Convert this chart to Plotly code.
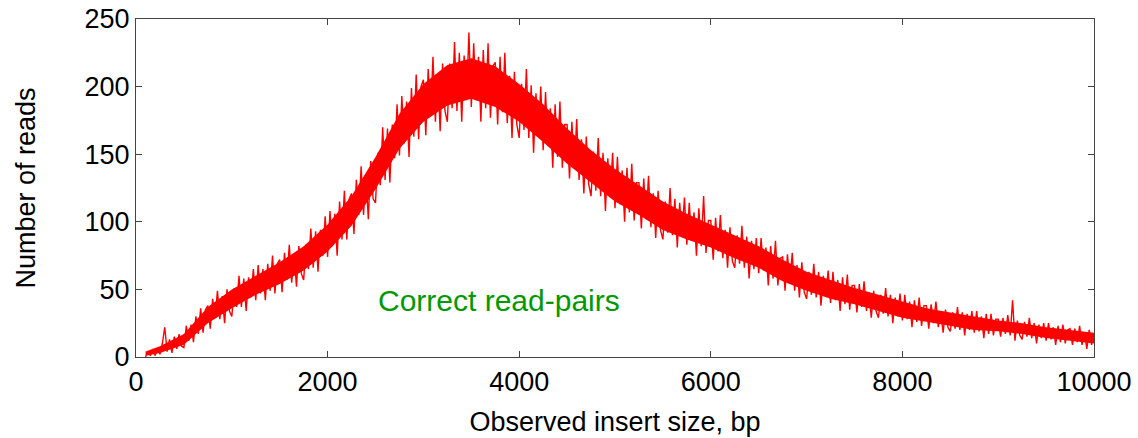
import numpy as np
import plotly.graph_objects as go

# Observed insert size grid (bp), one bin every 25 bp
insert_size = np.arange(100, 10001, 25)

# Number of reads per bin
reads = [
    0, 4, 1, 6, 1, 7,
    2, 10, 22, 4, 13, 3, 15, 6, 17, 8,
    7, 23, 12, 24, 11, 30, 17, 36, 18, 35,
    38, 21, 43, 29, 49, 28, 45, 25, 50, 34,
    30, 51, 37, 60, 37, 58, 34, 59, 44, 65,
    42, 68, 47, 65, 42, 69, 49, 75, 47, 69,
    72, 48, 77, 57, 83, 55, 76, 52, 82, 62,
    57, 83, 65, 95, 66, 93, 63, 94, 75, 104,
    74, 108, 82, 106, 75, 115, 87, 123, 87, 117,
    121, 91, 131, 105, 141, 105, 135, 102, 145, 117,
    114, 151, 127, 170, 131, 169, 129, 172, 147, 187,
    149, 193, 158, 189, 148, 199, 163, 209, 161, 200,
    205, 164, 213, 178, 222, 174, 210, 167, 217, 182,
    174, 217, 184, 233, 182, 225, 174, 223, 190, 240,
    185, 232, 190, 222, 174, 227, 184, 232, 177, 215,
    218, 172, 222, 181, 225, 173, 208, 162, 211, 172,
    162, 202, 168, 213, 162, 201, 151, 195, 163, 200,
    153, 196, 156, 184, 140, 187, 148, 189, 140, 172,
    172, 132, 174, 139, 176, 131, 161, 121, 163, 128,
    119, 152, 123, 162, 119, 151, 108, 147, 118, 151,
    110, 148, 113, 138, 100, 140, 107, 143, 101, 129,
    129, 95, 132, 102, 134, 96, 121, 88, 123, 94,
    87, 115, 92, 125, 90, 117, 81, 114, 91, 118,
    83, 114, 86, 107, 75, 110, 82, 119, 77, 101,
    101, 72, 103, 78, 105, 73, 94, 66, 96, 71,
    66, 90, 69, 97, 66, 89, 58, 86, 65, 88,
    62, 88, 64, 81, 53, 82, 58, 86, 53, 73,
    74, 49, 76, 54, 77, 49, 68, 44, 70, 48,
    43, 63, 46, 69, 44, 63, 38, 60, 45, 64,
    40, 63, 42, 57, 34, 59, 39, 61, 35, 53,
    53, 33, 54, 37, 56, 34, 48, 29, 49, 34,
    29, 46, 32, 51, 30, 46, 25, 44, 30, 47,
    27, 46, 28, 41, 22, 42, 26, 44, 23, 38,
    38, 21, 39, 25, 41, 22, 34, 18, 35, 22,
    19, 33, 21, 37, 20, 33, 16, 32, 20, 34,
    18, 34, 19, 30, 14, 32, 17, 32, 16, 28,
    28, 15, 29, 17, 31, 16, 42, 12, 27, 16,
    13, 26, 15, 29, 14, 25, 10, 24, 14, 25,
    12, 25, 13, 22, 9, 23, 11, 24, 10, 20,
    21, 9, 21, 11, 23, 9, 18, 6, 20, 9,
    17,
]

# Dense core of the noisy band (where the trace is solid red), read every 250 bp
core_x = [100, 250, 500, 750, 1000, 1250, 1500, 1750, 2000, 2250, 2500, 2750,
          3000, 3250, 3500, 3750, 4000, 4250, 4500, 4750, 5000, 5250, 5500,
          5750, 6000, 6250, 6500, 6750, 7000, 7250, 7500, 7750, 8000, 8250,
          8500, 8750, 9000, 9250, 9500, 9750, 10000]
core_low = [1, 3, 9, 25, 36, 46, 54, 64, 78, 97, 124, 154, 174, 186, 191, 185,
            174, 159, 143, 129, 115, 105, 94, 87, 81, 73, 66, 56, 49, 43, 39,
            34, 29, 26, 23, 20, 19, 17, 14, 12, 10]
core_high = [4, 8, 17, 37, 50, 60, 70, 82, 98, 119, 148, 180, 202, 216, 221, 215,
             202, 187, 169, 153, 139, 127, 115, 106, 98, 90, 82, 72, 63, 57, 51,
             46, 41, 36, 33, 30, 27, 25, 22, 20, 18]

x_ticks = [0, 2000, 4000, 6000, 8000, 10000]
y_ticks = [0, 50, 100, 150, 200, 250]

FONT = "Liberation Sans, Arial, sans-serif"
RED = "#ff0000"

fig = go.Figure()
fig.add_trace(go.Scatter(
    x=core_x, y=core_low, mode="lines", line=dict(width=0, color=RED),
    showlegend=False, hoverinfo="skip",
))
fig.add_trace(go.Scatter(
    x=core_x, y=core_high, mode="lines", line=dict(width=0, color=RED),
    fill="tonexty", fillcolor=RED, showlegend=False, hoverinfo="skip",
))
fig.add_trace(go.Scatter(
    x=insert_size, y=reads, mode="lines",
    line=dict(color=RED, width=1.4),
    showlegend=False, hoverinfo="skip",
))

fig.add_annotation(
    x=3789, y=42, xref="x", yref="y", text="Correct read-pairs",
    showarrow=False, xanchor="center", yanchor="middle",
    font=dict(family=FONT, size=30, color="#009900"),
)

axis_common = dict(
    showline=True, linecolor="#444444", linewidth=1.3, mirror="ticks",
    ticks="inside", ticklen=6, tickcolor="#444444", tickwidth=1,
    showgrid=False, zeroline=False, ticklabeloverflow="allow",
    automargin=False,
    tickfont=dict(family=FONT, size=27, color="#000000"),
)

fig.update_xaxes(
    range=[0, 10000], tickvals=x_ticks, ticktext=[str(v) for v in x_ticks],
    title=dict(text="Observed insert size, bp", font=dict(family=FONT, size=27, color="#000000"), standoff=16),
    **axis_common,
)
fig.update_yaxes(
    range=[0, 250], tickvals=y_ticks, ticktext=[str(v) for v in y_ticks],
    title=dict(text="Number of reads", font=dict(family=FONT, size=27, color="#000000"), standoff=40),
    **axis_common,
)

fig.update_layout(
    width=1138, height=438,
    margin=dict(l=136, r=44, t=19, b=81),
    plot_bgcolor="white", paper_bgcolor="white",
)

fig.write_html(
    "out.html",
    config={"displayModeBar": False},
    post_script="document.body.style.margin='0';",
)
